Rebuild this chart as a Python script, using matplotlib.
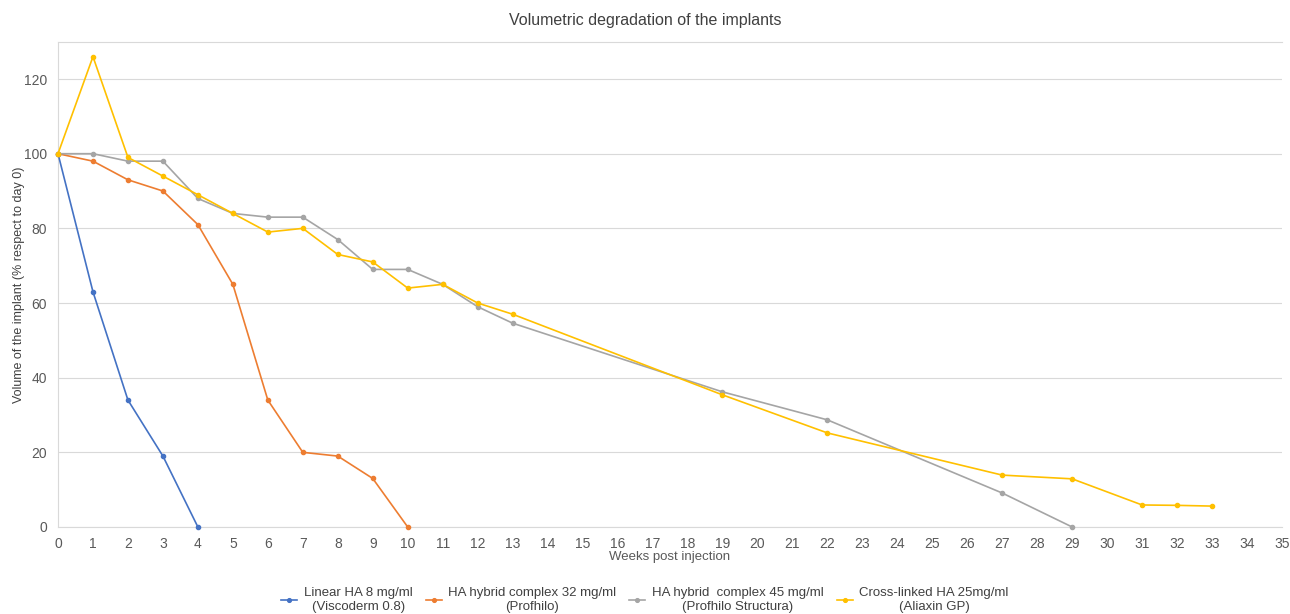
import matplotlib.pyplot as plt

plt.rcParams['font.family'] = ['Liberation Sans', 'DejaVu Sans']

# Data
weeks_linear = [0, 1, 2, 3, 4]
vol_linear = [100, 63, 34, 19, 0]

weeks_32 = [0, 1, 2, 3, 4, 5, 6, 7, 8, 9, 10]
vol_32 = [100, 98, 93, 90, 81, 65, 34, 20, 19, 13, 0]

weeks_45 = [0, 1, 2, 3, 4, 5, 6, 7, 8, 9, 10, 11, 12, 13, 19, 22, 27, 29]
vol_45 = [100, 100, 98, 98, 88, 84, 83, 83, 77, 69, 69, 65, 59, 54.6, 36.2, 28.7, 9.1, 0]

weeks_xl = [0, 1, 2, 3, 4, 5, 6, 7, 8, 9, 10, 11, 12, 13, 19, 22, 27, 29, 31, 32, 33]
vol_xl = [100, 126, 99, 94, 89, 84, 79, 80, 73, 71, 64, 65, 60, 57, 35.4, 25.2, 13.9, 12.9, 5.9, 5.8, 5.6]

labels = ['Linear HA 8 mg/ml\n(Viscoderm 0.8)',
          'HA hybrid complex 32 mg/ml\n(Profhilo)',
          'HA hybrid  complex 45 mg/ml\n(Profhilo Structura)',
          'Cross-linked HA 25mg/ml\n(Aliaxin GP)']
colors = ['#4472C4', '#ED7D31', '#A5A5A5', '#FFC000']

fig = plt.figure(figsize=(12.9, 6.14), dpi=100)
ax = fig.add_axes([58 / 1290, 1 - 527 / 614, (1282 - 58) / 1290, (527 - 41.7) / 614])

series = [(weeks_linear, vol_linear), (weeks_32, vol_32), (weeks_45, vol_45), (weeks_xl, vol_xl)]
for (x, y), lab, c in zip(series, labels, colors):
    ax.plot(x, y, '-o', color=c, lw=1.2, ms=3, label=lab, zorder=3, clip_on=False)

ax.set_xlim(0, 35)
ax.set_ylim(0, 130)
ax.set_xticks(range(0, 36))
ax.set_yticks(range(0, 121, 20))
ax.grid(axis='y', color='#D9D9D9', lw=0.8)
ax.tick_params(axis='both', length=0, labelsize=10, colors='#595959')
ax.tick_params(axis='x', pad=7)
ax.tick_params(axis='y', pad=8)
ax.spines['right'].set_visible(False)
ax.spines['top'].set_color('#D9D9D9')
ax.spines['top'].set_linewidth(0.8)
ax.spines['left'].set_color('#D9D9D9')
ax.spines['bottom'].set_color('#D9D9D9')

ax.set_xlabel('Weeks post injection', fontsize=9.5, color='#595959', labelpad=0)
ax.set_ylabel('Volume of the implant (% respect to day 0)', fontsize=9, color='#404040')
ax.yaxis.set_label_coords((25 - 58) / 1224, 0.5)
fig.text(0.5, 1 - 20 / 614, 'Volumetric degradation of the implants', ha='center', va='center',
         fontsize=11.5, color='#404040')

leg = fig.legend(loc='lower center', bbox_to_anchor=(0.5, -0.017), ncol=4, frameon=False,
                 fontsize=9.5, handlelength=1.2, columnspacing=1.0, handletextpad=0.5,
                 markerscale=0.9)
for t in leg.get_texts():
    t.set_multialignment('center')
    t.set_color('#404040')

fig.savefig('out.png', dpi=100)
